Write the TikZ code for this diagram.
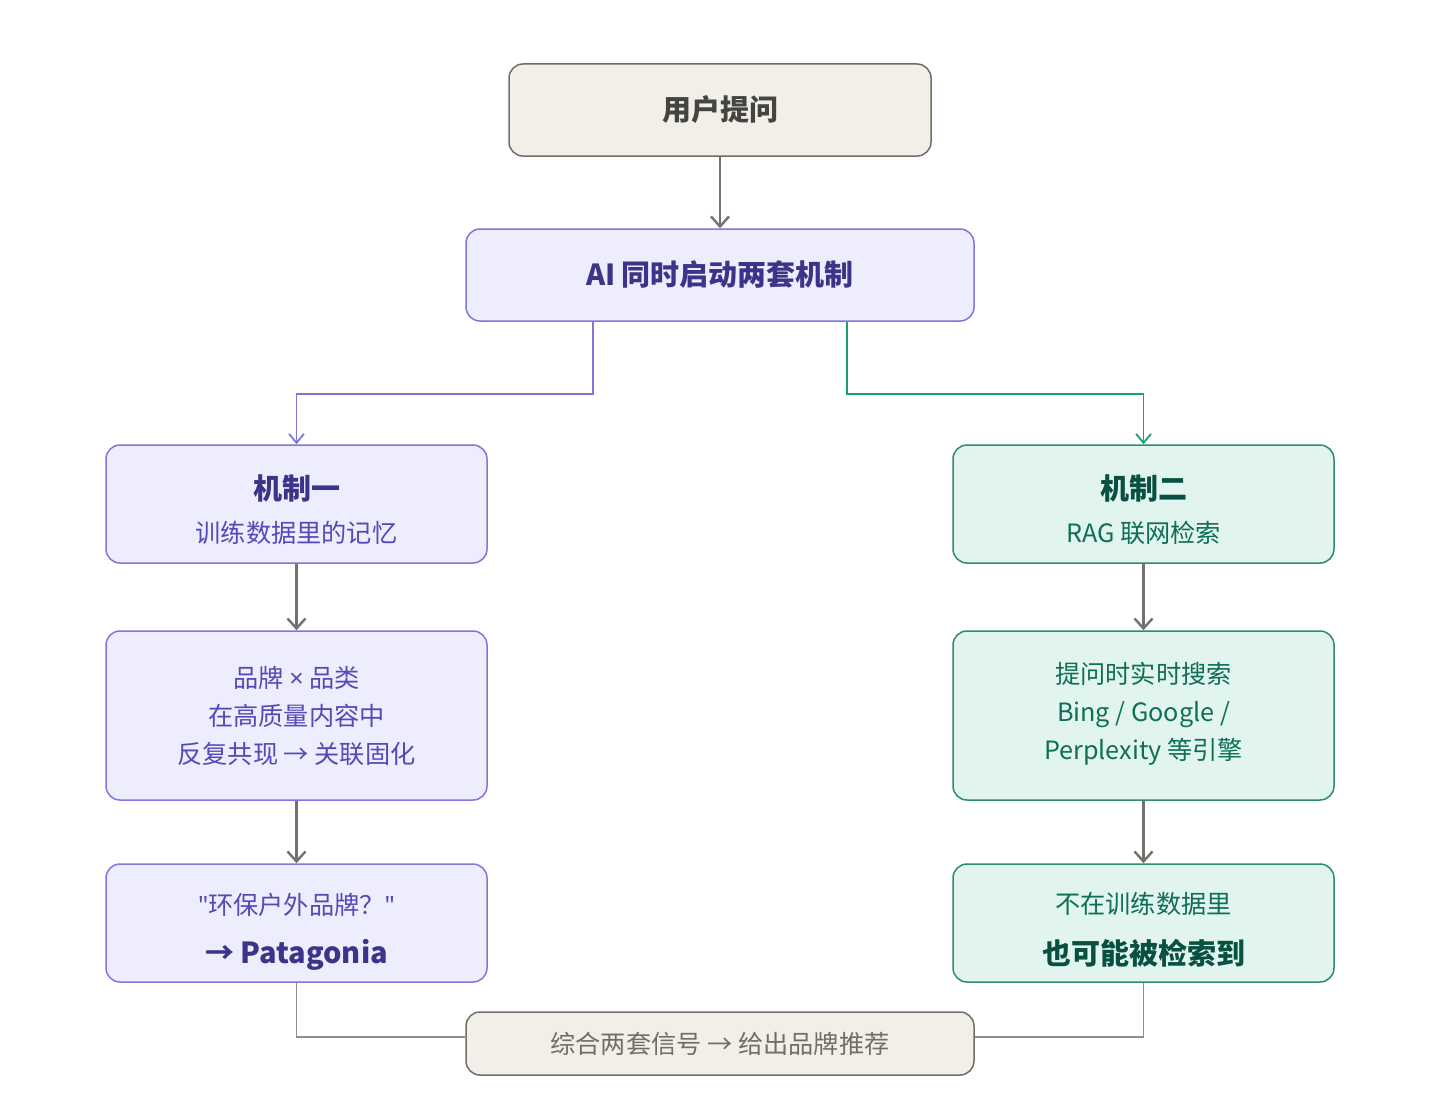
\documentclass[tikz,border=0pt]{standalone}
\usepackage{fontspec}
\setmainfont{Noto Sans CJK SC}
\newfontfamily\sym{Noto Sans}
\usepackage{xcolor}
\usetikzlibrary{arrows.meta,positioning}

\definecolor{grayfill}{HTML}{F1EFE8}
\definecolor{grayline}{HTML}{6F6E69}
\definecolor{graytext}{HTML}{444441}
\definecolor{purfill}{HTML}{EEEDFE}
\definecolor{purline}{HTML}{7F77DD}
\definecolor{purtext}{HTML}{534AB7}
\definecolor{purdark}{HTML}{3C3489}
\definecolor{grnfill}{HTML}{E1F5EE}
\definecolor{grnline}{HTML}{2E8B6E}
\definecolor{grnedge}{HTML}{1D9E75}
\definecolor{grntext}{HTML}{0F6E56}
\definecolor{grndark}{HTML}{085041}
\definecolor{arrgray}{HTML}{73726C}

\begin{document}
\begin{tikzpicture}[x=0.5pt, y=-0.5pt,
  box/.style={draw, rounded corners=7pt, align=center, line width=0.75pt, inner sep=0pt, minimum width=190.5pt},
  graybox/.style={box, fill=grayfill, draw=grayline, text=graytext},
  purbox/.style={box, fill=purfill, draw=purline, text=purtext},
  grnbox/.style={box, fill=grnfill, draw=grnline, text=grntext},
  head/.style={font=\fontsize{14.5}{17}\selectfont\bfseries},
  body/.style={font=\fontsize{12.6}{19}\selectfont},
  arr/.style={draw=arrgray, line width=1.3pt, -{Straight Barb[length=5pt, width=9pt, line width=1.2pt]}},
  split/.style={line width=0.85pt, -{Straight Barb[length=4.5pt, width=7.5pt, line width=0.9pt]}},
  link/.style={draw=arrgray!80, line width=0.9pt}]
\useasboundingbox (0,0) rectangle (1440,1102);

\node[graybox, minimum width=211pt, minimum height=46pt, head] (ask) at (720,110) {用户提问};
\node[purbox, minimum width=254pt, minimum height=46pt, text=purdark, head] (ai) at (720,275) {AI 同时启动两套机制};

% mechanism one: training memory
\node[purbox, minimum height=59pt, text height=40.6pt, text depth=2pt] (memhead) at (296.5,504)
  {{\fontsize{14.5}{17}\selectfont\bfseries\color{purdark}机制一}\\[8.5pt]{\fontsize{12.6}{15}\selectfont 训练数据里的记忆}};
\node[purbox, minimum height=84.5pt, body, text height=50.1pt, text depth=2pt] (memco) at (296.5,715.5)
  {品牌 {\sym ×} 品类\\在高质量内容中\\反复共现 → 关联固化};
\node[purbox, minimum height=59pt, text height=43.4pt, text depth=3pt] (memex) at (296.5,923)
  {{\fontsize{12.6}{15}\selectfont {\sym"}环保户外品牌？{\sym"}}\\[10.5pt]{\fontsize{14.5}{17}\selectfont\bfseries\color{purdark}→ Patagonia}};

% mechanism two: RAG
\node[grnbox, minimum height=59pt, text height=40.6pt, text depth=2pt] (raghead) at (1143.5,504)
  {{\fontsize{14.5}{17}\selectfont\bfseries\color{grndark}机制二}\\[8.5pt]{\fontsize{12.6}{15}\selectfont RAG 联网检索}};
\node[grnbox, minimum height=84.5pt, body, text height=46.1pt, text depth=2pt] (ragsearch) at (1143.5,715.5)
  {提问时实时搜索\\Bing / Google /\\Perplexity 等引擎};
\node[grnbox, minimum height=59pt, text height=44pt, text depth=3pt] (ragfind) at (1143.5,923)
  {{\fontsize{12.6}{15}\selectfont 不在训练数据里}\\[10.5pt]{\fontsize{14.5}{17}\selectfont\bfseries\color{grndark}也可能被检索到}};

\node[graybox, minimum width=254pt, minimum height=31.5pt, text=grayline, font=\fontsize{12.6}{15}\selectfont] (merge) at (720,1043.5) {综合两套信号 → 给出品牌推荐};

\draw[arr] (ask) -- (ai);
\draw[split, draw=purline] ([xshift=-63.5pt]ai.south) -- ++(0,72) -| (memhead.north);
\draw[split, draw=grnedge] ([xshift=63.5pt]ai.south) -- ++(0,72) -| (raghead.north);
\draw[arr] (memhead) -- (memco);
\draw[arr] (memco) -- (memex);
\draw[arr] (raghead) -- (ragsearch);
\draw[arr] (ragsearch) -- (ragfind);
\draw[link] (memex.south) |- ([yshift=3.25pt]merge.west);
\draw[link] (ragfind.south) |- ([yshift=3.25pt]merge.east);
\end{tikzpicture}
\end{document}
